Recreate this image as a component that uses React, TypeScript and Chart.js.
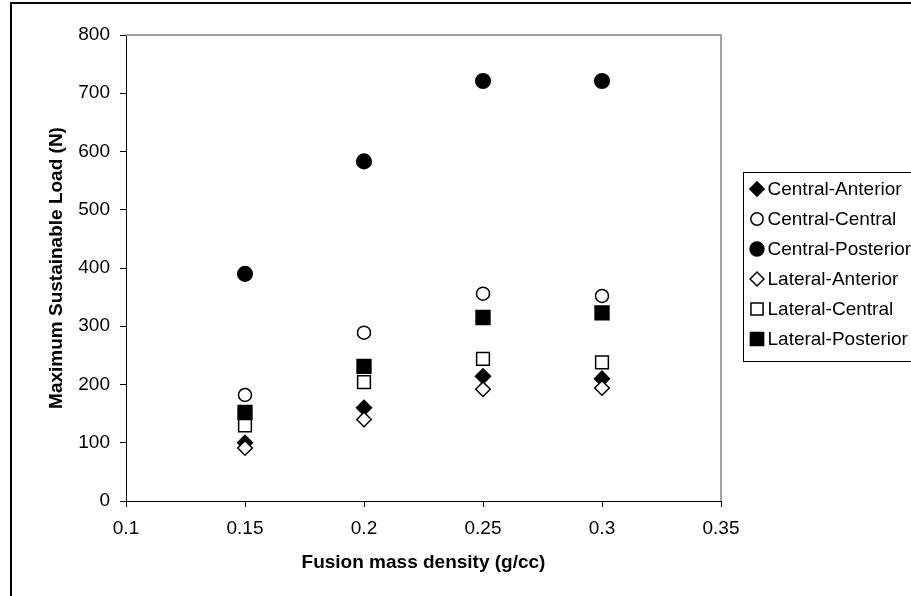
import React, { useEffect, useRef } from 'react';
import { Chart, registerables } from 'chart.js';

Chart.register(...registerables);

// ---- data ----
const xValues = [0.15, 0.2, 0.25, 0.3];
const seriesNames = [
  'Central-Anterior',
  'Central-Central',
  'Central-Posterior',
  'Lateral-Anterior',
  'Lateral-Central',
  'Lateral-Posterior',
];
const centralAnterior = [100, 160, 214, 210];
const centralCentral = [182, 289, 356, 352];
const centralPosterior = [390, 583, 721, 721];
const lateralAnterior = [91, 140, 192, 194];
const lateralCentral = [130, 204, 244, 238];
const lateralPosterior = [152, 231, 315, 323];
const seriesValues = [
  centralAnterior,
  centralCentral,
  centralPosterior,
  lateralAnterior,
  lateralCentral,
  lateralPosterior,
];
const xTickValues = [0.1, 0.15, 0.2, 0.25, 0.3, 0.35];
const xTickLabels = ['0.1', '0.15', '0.2', '0.25', '0.3', '0.35'];
const yTickValues = [0, 100, 200, 300, 400, 500, 600, 700, 800];
const yTickLabels = ['0', '100', '200', '300', '400', '500', '600', '700', '800'];
const xTitle = 'Fusion mass density (g/cc)';
const yTitle = 'Maximum Sustainable Load (N)';

// ---- marker styles ----
type MarkerStyle = { shape: 'diamond' | 'circle' | 'square'; filled: boolean; radius: number };
const markerStyles: MarkerStyle[] = [
  { shape: 'diamond', filled: true, radius: 7.5 },
  { shape: 'circle', filled: false, radius: 6.5 },
  { shape: 'circle', filled: true, radius: 7.3 },
  { shape: 'diamond', filled: false, radius: 7.3 },
  { shape: 'square', filled: false, radius: 9 },
  { shape: 'square', filled: true, radius: 9.8 },
];

const FONT = '"Liberation Sans", Arial, sans-serif';
const FS = 19;

const PLOT = { left: 126, right: 721, top: 35, bottom: 501 };
const W = 911;
const H = 596;

function drawMarker(ctx: CanvasRenderingContext2D, m: MarkerStyle, x: number, y: number, r: number) {
  ctx.beginPath();
  if (m.shape === 'circle') {
    ctx.arc(x, y, r, 0, Math.PI * 2);
  } else if (m.shape === 'diamond') {
    ctx.moveTo(x - r, y);
    ctx.lineTo(x, y - r);
    ctx.lineTo(x + r, y);
    ctx.lineTo(x, y + r);
    ctx.closePath();
  } else {
    const s = Math.SQRT1_2 * r;
    ctx.rect(x - s, y - s, 2 * s, 2 * s);
  }
  ctx.fillStyle = m.filled ? '#000' : '#fff';
  ctx.fill();
  ctx.lineWidth = 1.5;
  ctx.strokeStyle = '#000';
  ctx.stroke();
}

const framePlugin = {
  id: 'frame',
  beforeDraw(chart: any) {
    const ctx = chart.ctx as CanvasRenderingContext2D;
    ctx.save();
    ctx.fillStyle = '#fff';
    ctx.fillRect(0, 0, chart.width, chart.height);
    ctx.strokeStyle = '#000';
    ctx.lineWidth = 2;
    ctx.strokeRect(11, 3, 1000, 1000);
    ctx.restore();
  },
  afterDraw(chart: any) {
    const ctx = chart.ctx as CanvasRenderingContext2D;
    const a = chart.chartArea;
    ctx.save();
    // plot area top/right border (gray)
    ctx.strokeStyle = '#a0a0a0';
    ctx.lineWidth = 2;
    ctx.beginPath();
    ctx.moveTo(a.left, a.top);
    ctx.lineTo(a.right, a.top);
    ctx.lineTo(a.right, a.bottom);
    ctx.stroke();
    // legend
    const lx = 743.5;
    const ly = 172.5;
    ctx.strokeStyle = '#000';
    ctx.lineWidth = 1;
    ctx.strokeRect(lx, ly, 400, 189);
    ctx.font = `${FS}px ${FONT}`;
    ctx.textBaseline = 'middle';
    ctx.textAlign = 'left';
    chart.data.datasets.forEach((ds: any, i: number) => {
      const y = 189 + i * 30;
      drawMarker(ctx, markerStyles[i], 757, y, markerStyles[i].radius * 0.95);
      ctx.fillStyle = '#000';
      ctx.fillText(ds.label, 767.5, y + 1);
    });
    ctx.restore();
  },
};

export default function App() {
  const ref = useRef<HTMLCanvasElement | null>(null);

  useEffect(() => {
    if (!ref.current) return;
    const datasets = seriesNames.map((name, i) => {
      const m = markerStyles[i];
      return {
        label: name,
        data: xValues.map((x, j) => ({ x, y: seriesValues[i][j] })),
        pointStyle: m.shape === 'diamond' ? 'rectRot' : m.shape === 'square' ? 'rect' : 'circle',
        pointRadius: m.radius,
        pointHoverRadius: m.radius,
        pointBackgroundColor: m.filled ? '#000' : '#fff',
        pointBorderColor: '#000',
        pointBorderWidth: 1.5,
        showLine: false,
        order: 6 - i,
      };
    });

    const chart = new Chart(ref.current, {
      type: 'scatter',
      data: { datasets: datasets as any },
      plugins: [framePlugin],
      options: {
        responsive: false,
        animation: false,
        devicePixelRatio: 1,
        layout: {
          padding: { left: 0, top: PLOT.top, right: W - PLOT.right, bottom: 0 },
        },
        plugins: {
          legend: { display: false },
          tooltip: { enabled: false },
          title: { display: false },
        },
        scales: {
          x: {
            type: 'linear',
            min: 0.1,
            max: 0.35,
            afterBuildTicks: (s: any) => {
              s.ticks = xTickValues.map((v) => ({ value: v }));
            },
            afterFit: (s: any) => {
              s.height = H - PLOT.bottom;
            },
            ticks: {
              autoSkip: false,
              maxRotation: 0,
              padding: 10,
              color: '#000',
              font: { family: FONT, size: FS },
              callback: (_v: any, i: number) => xTickLabels[i],
            },
            grid: {
              drawOnChartArea: false,
              drawTicks: true,
              tickLength: 6,
              tickColor: '#000',
              tickWidth: 1,
            },
            border: { display: true, color: '#000', width: 1 },
            title: {
              display: true,
              text: xTitle,
              color: '#000',
              font: { family: FONT, size: FS, weight: 'bold' },
              padding: { top: 0, bottom: 22 },
            },
          },
          y: {
            type: 'linear',
            min: 0,
            max: 800,
            afterBuildTicks: (s: any) => {
              s.ticks = yTickValues.map((v) => ({ value: v }));
            },
            afterFit: (s: any) => {
              s.width = PLOT.left;
            },
            ticks: {
              autoSkip: false,
              padding: 10,
              color: '#000',
              font: { family: FONT, size: FS },
              callback: (_v: any, i: number) => yTickLabels[i],
            },
            grid: {
              drawOnChartArea: false,
              drawTicks: true,
              tickLength: 6,
              tickColor: '#000',
              tickWidth: 1,
            },
            border: { display: true, color: '#000', width: 1 },
            title: {
              display: true,
              text: yTitle,
              color: '#000',
              font: { family: FONT, size: FS, weight: 'bold' },
              padding: { top: 45, bottom: 0 },
            },
          },
        },
      } as any,
    });
    return () => chart.destroy();
  }, []);

  return (
    <canvas
      ref={ref}
      width={W}
      height={H}
      style={{ position: 'absolute', left: 0, top: 0, width: W, height: H, display: 'block' }}
    />
  );
}
